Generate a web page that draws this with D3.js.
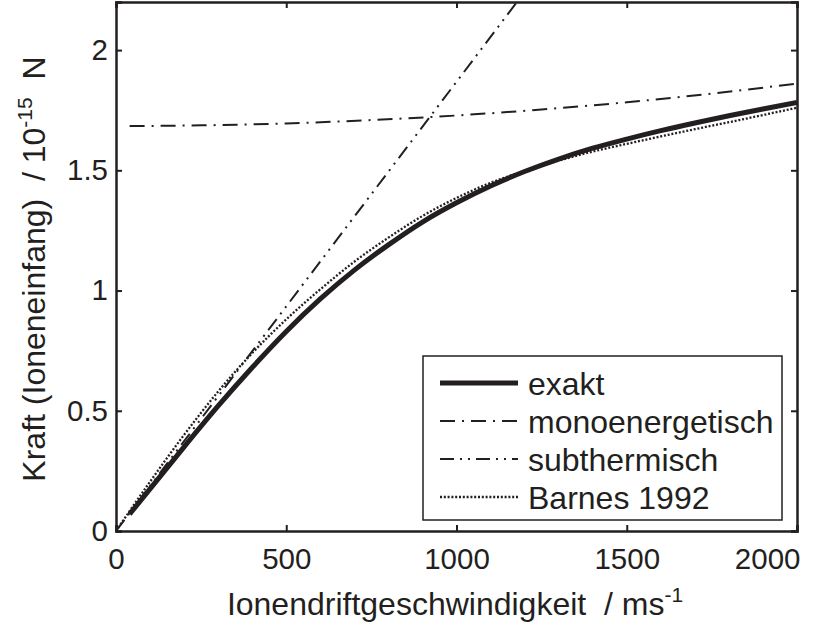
<!DOCTYPE html>
<html>
<head>
<meta charset="utf-8">
<script src="https://cdn.jsdelivr.net/npm/d3@7"></script>
<style>
  body { margin: 0; background: #fff; }
  svg { display: block; font-family: "Liberation Sans", Arial, sans-serif; }
  .title { white-space: pre; }
</style>
</head>
<body>
<div id="chart"></div>
<script>
// values, force in 1e-15 N against drift speed in m/s
const exaktV = [40, 100, 200, 300, 400, 500, 600, 700, 800, 900, 1000, 1100, 1200, 1300, 1400, 1500, 1600, 1700, 1800, 1900, 2000];
const exaktF = [0.07, 0.175, 0.35, 0.52, 0.68, 0.83, 0.965, 1.085, 1.19, 1.285, 1.365, 1.435, 1.495, 1.547, 1.592, 1.63, 1.665, 1.697, 1.727, 1.755, 1.782];

const barnesV = [0, 100, 200, 300, 400, 500, 600, 700, 800, 900, 1000, 1100, 1200, 1300, 1400, 1500, 1600, 1700, 1800, 1900, 2000];
const barnesF = [0, 0.205, 0.4, 0.58, 0.74, 0.88, 1.005, 1.12, 1.22, 1.31, 1.385, 1.448, 1.497, 1.54, 1.578, 1.61, 1.641, 1.671, 1.7, 1.73, 1.76];

const monoV = [40, 250, 500, 750, 1000, 1250, 1500, 1750, 2000];
const monoF = [1.684, 1.687, 1.695, 1.709, 1.728, 1.753, 1.783, 1.819, 1.861];

const subV = [0, 500, 1000, 1200];
const subF = [0, 0.934, 1.868, 2.242];

const xTicks = [0, 500, 1000, 1500, 2000];
const yTicks = [0, 0.5, 1, 1.5, 2];

const legendLabels = ['exakt', 'monoenergetisch', 'subthermisch', 'Barnes 1992'];

const width = 836;
const height = 628;
const margin = { top: 2, right: 39, bottom: 97, left: 116 };
const ink = '#231f20';

const svg = d3.select('#chart')
  .append('svg')
  .attr('width', width)
  .attr('height', height);

const x = d3.scaleLinear()
  .domain([0, 2000])
  .range([margin.left, width - margin.right]);
const y = d3.scaleLinear()
  .domain([0, 2.2])
  .range([height - margin.bottom, margin.top]);

svg.append('clipPath')
  .attr('id', 'plot-clip')
  .append('rect')
  .attr('x', margin.left)
  .attr('y', margin.top)
  .attr('width', width - margin.left - margin.right)
  .attr('height', height - margin.top - margin.bottom);

const series = [
  { v: exaktV, f: exaktF, width: 5, dash: null },
  { v: monoV, f: monoF, width: 2, dash: '15,7,2,7' },
  { v: subV, f: subF, width: 2, dash: '14,6,2,6,2,6' },
  { v: barnesV, f: barnesF, width: 2.3, dash: '2,1.8' }
];

const line = d3.line()
  .x(d => x(d[0]))
  .y(d => y(d[1]))
  .curve(d3.curveMonotoneX);

const lines = svg.append('g').attr('clip-path', 'url(#plot-clip)');
series.forEach(s => {
  lines.append('path')
    .datum(s.v.map((v, i) => [v, s.f[i]]))
    .attr('d', line)
    .attr('fill', 'none')
    .attr('stroke', ink)
    .attr('stroke-width', s.width)
    .attr('stroke-dasharray', s.dash);
});

// axes, ticks point inward on all four sides
const fontSize = 29.5;
const axBottom = svg.append('g')
  .attr('transform', `translate(0,${y(0)})`)
  .call(d3.axisBottom(x).tickValues(xTicks).tickSize(-6).tickPadding(17).tickFormat(d3.format('d')));
const axLeft = svg.append('g')
  .attr('transform', `translate(${x(0)},0)`)
  .call(d3.axisLeft(y).tickValues(yTicks).tickSize(-6).tickPadding(8).tickFormat(d3.format('')));
const axTop = svg.append('g')
  .attr('transform', `translate(0,${y(2.2)})`)
  .call(d3.axisTop(x).tickValues(xTicks).tickSize(-6).tickFormat(''));
const axRight = svg.append('g')
  .attr('transform', `translate(${x(2000)},0)`)
  .call(d3.axisRight(y).tickValues(yTicks).tickSize(-6).tickFormat(''));

[axBottom, axLeft, axTop, axRight].forEach(g => {
  g.select('.domain').attr('stroke', ink).attr('stroke-width', 2.5);
  g.selectAll('.tick line').attr('stroke', ink).attr('stroke-width', 2);
  g.selectAll('.tick text')
    .attr('fill', ink)
    .style('font-size', fontSize + 'px')
    .style('font-family', '"Liberation Sans", Arial, sans-serif');
});

// the last x label is pulled in so it stays on the page
axBottom.selectAll('.tick text')
  .filter(d => d === 2000)
  .attr('text-anchor', 'end')
  .attr('x', 3);

// axis titles
const xTitle = svg.append('text')
  .attr('class', 'title')
  .attr('x', 455)
  .attr('y', 615)
  .attr('text-anchor', 'middle')
  .attr('fill', ink)
  .style('font-size', '32px');
xTitle.append('tspan').text('Ionendriftgeschwindigkeit  / ms');
xTitle.append('tspan').attr('dy', -13).style('font-size', '21px').text('-1');

const yTitle = svg.append('text')
  .attr('class', 'title')
  .attr('transform', `translate(45,269) rotate(-90)`)
  .attr('text-anchor', 'middle')
  .attr('fill', ink)
  .style('font-size', '32px');
yTitle.append('tspan').text('Kraft (Ioneneinfang)  / 10');
yTitle.append('tspan').attr('dy', -13).style('font-size', '21px').text('-15');
yTitle.append('tspan').attr('dy', 13).text('  N');

// legend
const legend = svg.append('g');
legend.append('rect')
  .attr('x', 423)
  .attr('y', 356)
  .attr('width', 359)
  .attr('height', 164)
  .attr('fill', '#fff')
  .attr('stroke', ink)
  .attr('stroke-width', 1.5);

legendLabels.forEach((label, i) => {
  const cy = 383 + i * 38;
  legend.append('line')
    .attr('x1', 440)
    .attr('x2', 518)
    .attr('y1', cy)
    .attr('y2', cy)
    .attr('stroke', ink)
    .attr('stroke-width', series[i].width)
    .attr('stroke-dasharray', series[i].dash);
  legend.append('text')
    .attr('x', 528)
    .attr('y', cy + 11.5)
    .attr('fill', ink)
    .style('font-size', '32px')
    .text(label);
});
</script>
</body>
</html>
